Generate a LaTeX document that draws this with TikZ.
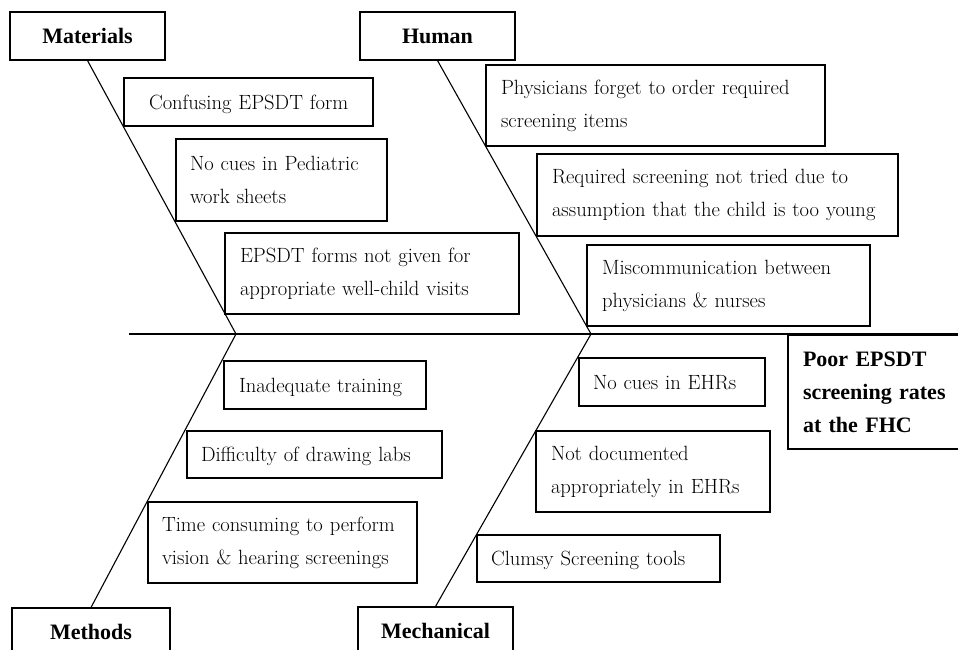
\documentclass[tikz,border=0pt]{standalone}
\usepackage{fontspec}
\newfontfamily\labelfont{Liberation Serif}
\newcommand{\fbline}[1]{\mbox{#1}}
\begin{document}
\begin{tikzpicture}[x=1pt,y=-1pt,
  box/.style={draw, line width=1.1pt, rectangle, inner ysep=0pt, align=left,
    font=\fontsize{20.6}{33}\selectfont},
  onebox/.style={box, text depth=0pt},
  head/.style={draw, line width=1.1pt, rectangle, inner sep=0pt, minimum width=155pt,
    minimum height=48pt, text depth=0pt, font=\labelfont\bfseries\fontsize{22}{33}\selectfont},
  bone/.style={line width=1.1pt}]
\useasboundingbox (0,0) rectangle (958,650);
\clip (0,0) rectangle (958,650);
% heads
\node[head] (mat) at (87.5,36) {Materials};
\node[head] (hum) at (437.5,36) {Human};
\node[head, minimum width=158pt] (met) at (91,632) {Methods};
\node[head] (mec) at (435.5,631) {Mechanical};
% spine
\coordinate (s0) at (129,334);
\coordinate (s1) at (965,334);
\coordinate (a1) at (236,334);
\coordinate (a2) at (591,334);
\draw[bone] (s0) -- (s1);
\draw[bone] (mat.south) -- (a1) -- (met.north);
\draw[bone] (hum.south) -- (a2) -- (mec.north);
% effect
\node[draw, line width=1.1pt, inner xsep=15pt, inner ysep=0pt, text width=162pt, minimum height=114pt,
  align=left, font=\labelfont\bfseries\fontsize{22}{33}\selectfont] (eff) at (884,392)
  {Poor EPSDT\\screening rates\\at the FHC};
% causes - materials
\node[onebox, inner xsep=25pt, text width=199pt, minimum height=48pt] (c1) at (248.5,102) {\fbline{Confusing EPSDT form}};
\node[box, inner xsep=14pt, text width=183pt, minimum height=82pt] (c2) at (281.5,180) {\fbline{No cues in Pediatric}\\\fbline{work sheets}};
\node[box, inner xsep=15pt, text width=264pt, minimum height=81pt] (c3) at (372,273.5) {\fbline{EPSDT forms not given for}\\\fbline{appropriate well-child visits}};
% human
\node[box, inner xsep=15pt, text width=309pt, minimum height=81pt] (h1) at (655.5,105.5) {\fbline{Physicians forget to order required}\\\fbline{screening items}};
\node[box, inner xsep=15pt, text width=331pt, minimum height=82pt] (h2) at (717.5,195) {\fbline{Required screening not tried due to}\\\fbline{assumption that the child is too young}};
\node[box, inner xsep=15pt, text width=253pt, minimum height=81pt] (h3) at (728.5,285.5) {\fbline{Miscommunication between}\\\fbline{physicians \& nurses}};
% methods
\node[onebox, inner xsep=15pt, text width=172pt, minimum height=48pt] (m1) at (325,385) {\fbline{Inadequate training}};
\node[onebox, inner xsep=14pt, text width=227pt, minimum height=47pt] (m2) at (314.5,454.5) {\fbline{Difficulty of drawing labs}};
\node[box, inner xsep=14pt, text width=241pt, minimum height=81pt] (m3) at (282.5,542.5) {\fbline{Time consuming to perform}\\\fbline{vision \& hearing screenings}};
% mechanical
\node[onebox, inner xsep=14pt, text width=158pt, minimum height=48pt] (e1) at (672,382) {\fbline{No cues in EHRs}};
\node[box, inner xsep=15pt, text width=204pt, minimum height=81pt] (e2) at (653,471.5) {\fbline{Not documented}\\\fbline{appropriately in EHRs}};
\node[onebox, inner xsep=14pt, text width=215pt, minimum height=47pt] (e3) at (598.5,558.5) {\fbline{Clumsy Screening tools}};
\end{tikzpicture}
\end{document}
